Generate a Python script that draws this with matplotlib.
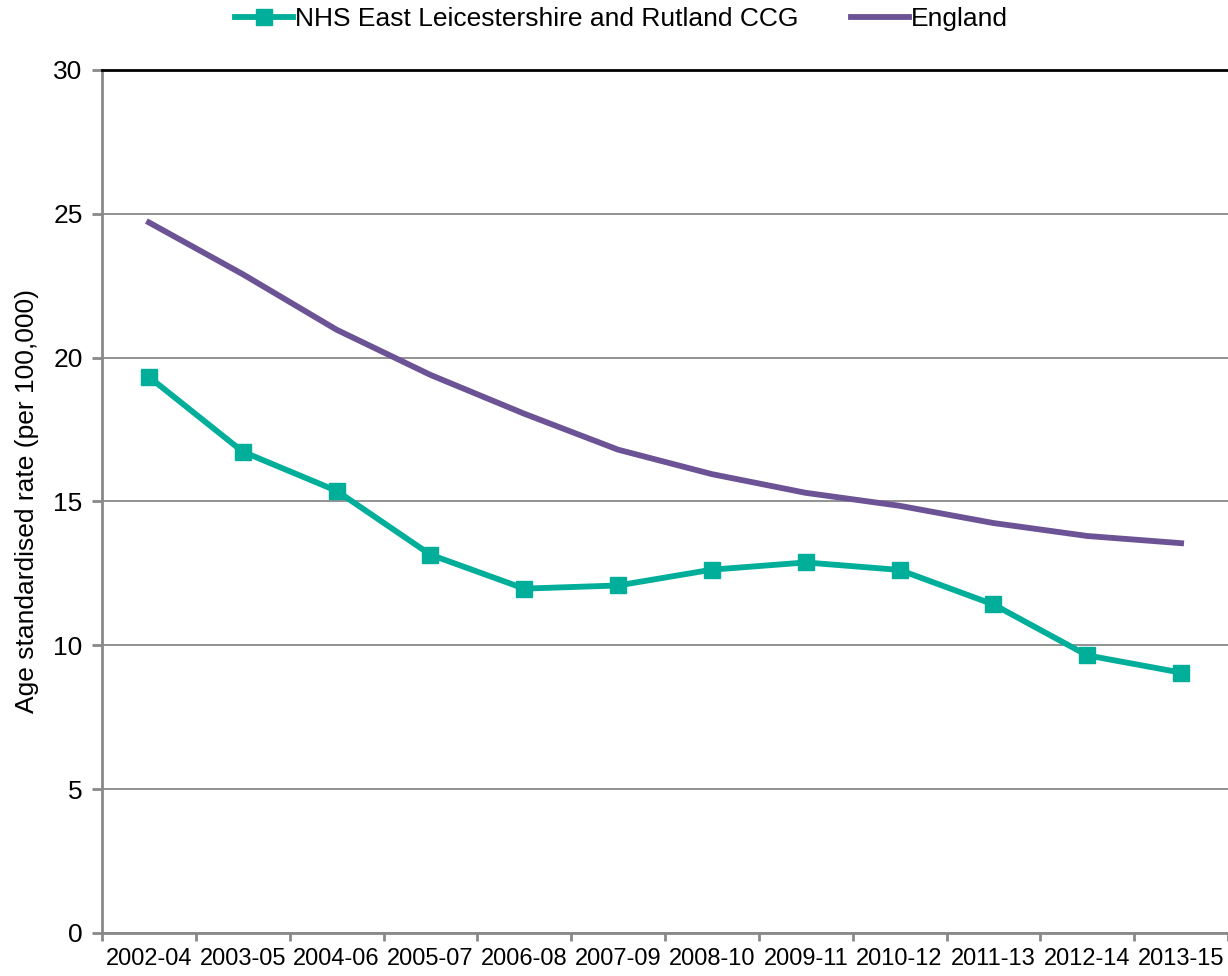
import matplotlib.pyplot as plt
import numpy as np

plt.rcParams['font.family'] = ['Liberation Sans', 'DejaVu Sans']

periods = ['2002-04', '2003-05', '2004-06', '2005-07', '2006-08', '2007-09',
           '2008-10', '2009-11', '2010-12', '2011-13', '2012-14', '2013-15']
ccg = [19.33, 16.73, 15.37, 13.15, 11.97, 12.08, 12.63, 12.88, 12.62, 11.42, 9.65, 9.05]
england = [24.7, 22.9, 20.97, 19.4, 18.05, 16.8, 15.95, 15.3, 14.85, 14.25, 13.8, 13.55]

teal = '#00ae9a'
purple = '#6b5396'
grey = '#898989'

fig = plt.figure(figsize=(12.28, 9.76), dpi=100)
ax = fig.add_axes([0.0831, 0.0441, 0.9169, 0.8842])

x = np.arange(len(periods))
ax.plot(x, ccg, color=teal, lw=4.2, marker='s', ms=11,
        label='NHS East Leicestershire and Rutland CCG')
ax.plot(x, england, color=purple, lw=4.2, label='England')

ax.set_xlim(-0.5, len(periods) - 0.5)
ax.set_ylim(0, 30)
ax.set_yticks(range(0, 31, 5))
ax.set_xticks(x)
ax.set_xticklabels(periods)
ax.set_xticks(np.arange(-0.5, len(periods), 1), minor=True)
ax.tick_params(axis='x', which='major', length=0, labelsize=17, pad=11)
ax.tick_params(axis='x', which='minor', length=6, width=2, color=grey)
ax.tick_params(axis='y', length=7, width=2, color=grey, labelsize=19, pad=7)

ax.grid(axis='y', color=grey, lw=1.3)
ax.set_axisbelow(True)
for s in ['left', 'bottom']:
    ax.spines[s].set_color(grey)
    ax.spines[s].set_linewidth(2)
ax.spines['right'].set_visible(False)
ax.spines['top'].set_color('black')
ax.spines['top'].set_linewidth(2)

ax.set_ylabel('Age standardised rate (per 100,000)', fontsize=19, labelpad=10)

fig.legend(loc='upper center', bbox_to_anchor=(0.506, 1.017), ncol=2, frameon=False,
           fontsize=19, handlelength=2.2, handletextpad=0.05, columnspacing=2.0)

fig.savefig('out.png')
